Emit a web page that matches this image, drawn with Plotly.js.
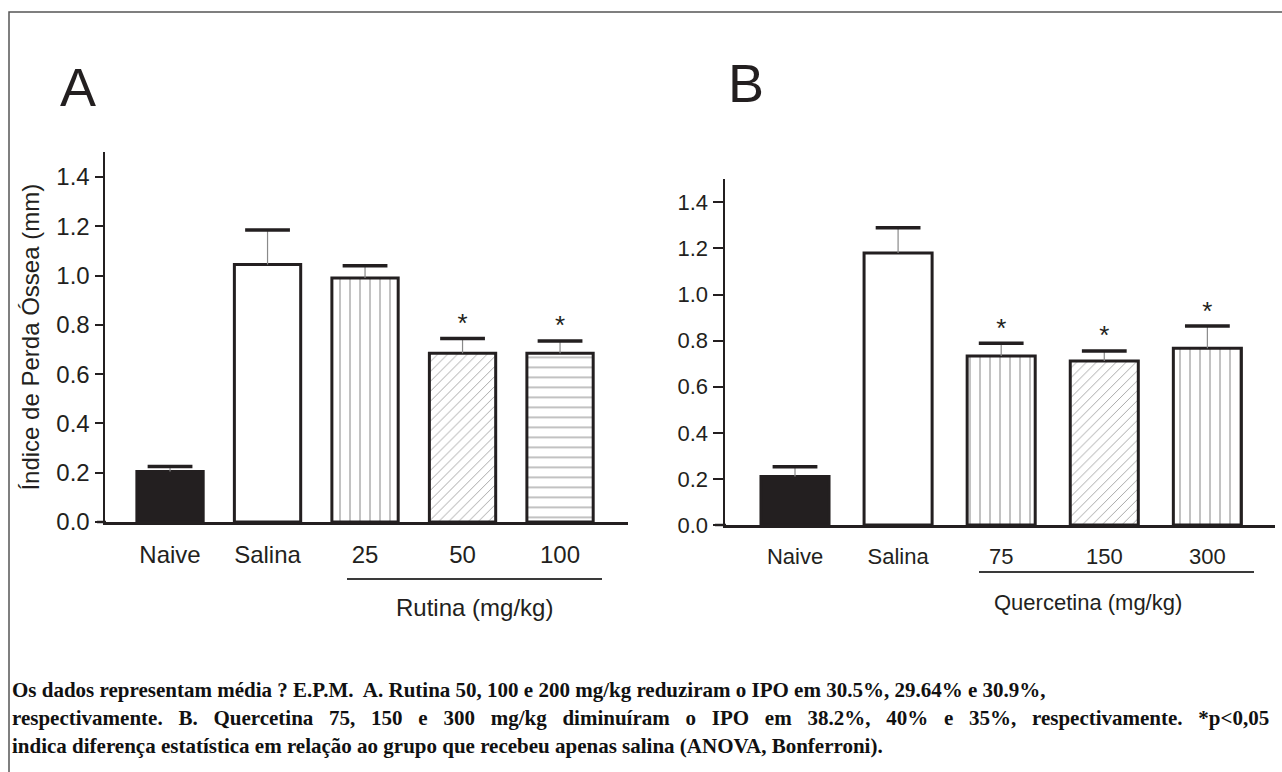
<!DOCTYPE html>
<html>
<head>
<meta charset="utf-8">
<script src="https://cdn.plot.ly/plotly-3.0.1.min.js"></script>
<style>
html,body{margin:0;padding:0;background:#fff;}
#chart{width:1282px;height:772px;}
</style>
</head>
<body>
<div id="chart"></div>
<script>
// ---- data ----
const categoriesA = ["Naive", "Salina", "25", "50", "100"];
const valuesA = [0.205, 1.045, 0.99, 0.685, 0.685];
const errorsA = [0.02, 0.14, 0.05, 0.06, 0.05];
const starsA = ["", "", "", "*", "*"];

const categoriesB = ["Naive", "Salina", "75", "150", "300"];
const valuesB = [0.21, 1.18, 0.733, 0.711, 0.767];
const errorsB = [0.043, 0.11, 0.055, 0.044, 0.096];
const starsB = ["", "", "*", "*", "*"];

const yTicks = [0, 0.2, 0.4, 0.6, 0.8, 1.0, 1.2, 1.4];
const yTickLabels = ["0.0", "0.2", "0.4", "0.6", "0.8", "1.0", "1.2", "1.4"];

const fills = ["#231f20", "#ffffff", "#ffffff", "#ffffff", "#ffffff"];
const patternsA = ["", "", "|", "/", "-"];
const patternsB = ["", "", "|", "/", "|"];

const captionLines = [
  "Os dados representam média ? E.P.M.  A. Rutina 50, 100 e 200 mg/kg reduziram o IPO em 30.5%, 29.64% e 30.9%,",
  "respectivamente. B. Quercetina 75, 150 e 300 mg/kg diminuíram o IPO em 38.2%, 40% e 35%, respectivamente. *p<0,05",
  "indica diferença estatística em relação ao grupo que recebeu apenas salina (ANOVA, Bonferroni)."
];

// ---- helpers ----
const W = 1282, H = 772;
const px = v => v / W;
const py = v => 1 - v / H;
const INK = "#231f20";
const fontSans = "Liberation Sans, Arial, sans-serif";

function sumArr(a, b) { return a.map((v, i) => v + b[i]); }

function panel(cats, vals, errs, stars, patterns, xa, ya, barWidth) {
  const bars = {
    type: "bar", x: cats, y: vals, xaxis: xa, yaxis: ya, width: barWidth,
    marker: {
      color: fills,
      line: {color: INK, width: 3},
      pattern: {shape: patterns, fillmode: "overlay", fgcolor: "#5f5f5f",
                size: patterns.map(p => p === "/" ? 7 : 10), solidity: 0.13}
    },
    error_y: {type: "data", symmetric: false, array: errs, arrayminus: errs.map(() => 0),
              color: "#8a8a8a", thickness: 1.2, width: 0},
    hoverinfo: "skip", showlegend: false
  };
  const caps = {
    type: "scatter", mode: "markers", x: cats, y: sumArr(vals, errs), xaxis: xa, yaxis: ya,
    marker: {symbol: "line-ew", size: 32, color: INK, line: {color: INK, width: 3.5}},
    hoverinfo: "skip", showlegend: false, cliponaxis: false
  };
  const starTrace = {
    type: "scatter", mode: "text", x: cats, y: sumArr(vals, errs), xaxis: xa, yaxis: ya,
    text: stars, textposition: "top center",
    textfont: {family: fontSans, size: 26, color: INK},
    hoverinfo: "skip", showlegend: false, cliponaxis: false
  };
  return [bars, caps, starTrace];
}

const data = [
  ...panel(categoriesA, valuesA, errorsA, starsA, patternsA, "x", "y", 0.68),
  ...panel(categoriesB, valuesB, errorsB, starsB, patternsB, "x2", "y2", 0.66)
];

function xAxis(domain, range, size) {
  return {
    domain: domain, range: range, type: "category",
    showline: true, linecolor: INK, linewidth: 2.5,
    ticks: "", showgrid: false, zeroline: false, fixedrange: true,
    tickfont: {family: fontSans, size: size, color: INK},
    ticklabelstandoff: 10
  };
}
function yAxis(domain, size, anchor, ticklen) {
  return {
    domain: domain, range: [0, 1.5], anchor: anchor,
    tickvals: yTicks, ticktext: yTickLabels,
    showline: true, linecolor: INK, linewidth: 2.5,
    ticks: "outside", ticklen: ticklen, tickwidth: 2, tickcolor: INK,
    showgrid: false, zeroline: false, fixedrange: true,
    tickfont: {family: fontSans, size: size, color: INK}
  };
}

const captionFont = {family: "Liberation Serif, Times New Roman, serif", size: 21, color: "#111"};
function justify(t, n) { return t.split(" ").join(" " + "\u00a0".repeat(n)); }

const layout = {
  width: W, height: H,
  margin: {l: 0, r: 0, t: 0, b: 0},
  paper_bgcolor: "#ffffff", plot_bgcolor: "rgba(0,0,0,0)",
  showlegend: false,
  xaxis: Object.assign(xAxis([px(105), px(628)], [-0.667, 4.697], 24), {anchor: "y"}),
  yaxis: Object.assign(yAxis([py(522), py(152.4)], 24, "x", 8), {
    title: {text: "Índice de Perda Óssea (mm)", font: {family: fontSans, size: 24, color: INK}, standoff: 10}
  }),
  xaxis2: Object.assign(xAxis([px(725), px(1275)], [-0.679, 4.656], 22), {anchor: "y2"}),
  yaxis2: yAxis([py(525), py(179.25)], 22, "x2", 10),
  shapes: [
    {type: "rect", xref: "paper", yref: "paper", x0: px(9), x1: px(1300), y0: py(800), y1: py(12),
     line: {color: "#555555", width: 1.5}, fillcolor: "rgba(0,0,0,0)"},
    {type: "line", xref: "paper", yref: "paper", x0: px(97), x1: px(106), y0: py(522), y1: py(522),
     line: {color: INK, width: 2.5}},
    {type: "line", xref: "paper", yref: "paper", x0: px(715), x1: px(726), y0: py(525), y1: py(525),
     line: {color: INK, width: 2.5}},
    {type: "line", xref: "paper", yref: "paper", x0: px(347), x1: px(602), y0: py(579), y1: py(579),
     line: {color: "#3a3a3a", width: 2}},
    {type: "line", xref: "paper", yref: "paper", x0: px(979), x1: px(1254), y0: py(572), y1: py(572),
     line: {color: "#3a3a3a", width: 2}}
  ],
  annotations: [
    {text: "A", xref: "paper", yref: "paper", x: px(78), y: py(87), xanchor: "center", yanchor: "middle",
     showarrow: false, font: {family: fontSans, size: 54, color: INK}},
    {text: "B", xref: "paper", yref: "paper", x: px(746), y: py(83), xanchor: "center", yanchor: "middle",
     showarrow: false, font: {family: fontSans, size: 54, color: INK}},
    {text: "Rutina (mg/kg)", xref: "paper", yref: "paper", x: px(474), y: py(607), xanchor: "center", yanchor: "middle",
     showarrow: false, font: {family: fontSans, size: 24, color: INK}},
    {text: "Quercetina (mg/kg)", xref: "paper", yref: "paper", x: px(1088), y: py(602), xanchor: "center", yanchor: "middle",
     showarrow: false, font: {family: fontSans, size: 22, color: INK}},
    {text: "<b>" + captionLines[0] + "</b>", xref: "paper", yref: "paper", x: px(10), y: py(690),
     xanchor: "left", yanchor: "middle", align: "left", showarrow: false, font: captionFont},
    {text: "<b>" + justify(captionLines[1], 2) + "</b>", xref: "paper", yref: "paper", x: px(10), y: py(718),
     xanchor: "left", yanchor: "middle", align: "left", showarrow: false, font: captionFont},
    {text: "<b>" + captionLines[2] + "</b>", xref: "paper", yref: "paper", x: px(10), y: py(746),
     xanchor: "left", yanchor: "middle", align: "left", showarrow: false, font: captionFont}
  ]
};

Plotly.newPlot("chart", data, layout, {staticPlot: true, displayModeBar: false});
</script>
</body>
</html>
